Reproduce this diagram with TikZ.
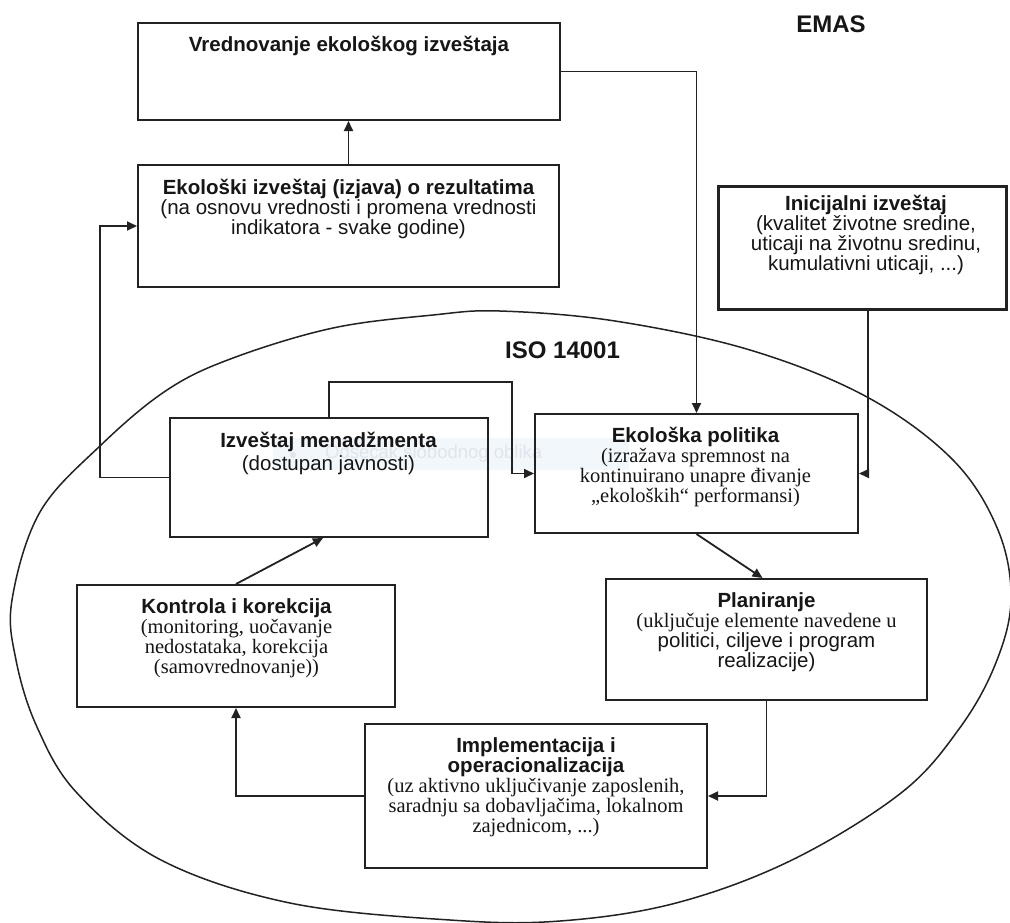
\documentclass[tikz,border=0pt]{standalone}
\usepackage{fontspec}
\setmainfont{Liberation Serif}
\setsansfont{Liberation Sans}
\usetikzlibrary{arrows.meta}
\definecolor{ink}{HTML}{161616}
\definecolor{edge}{HTML}{222222}
\definecolor{tipbg}{HTML}{F2F7FC}
\definecolor{tiptext}{HTML}{E0E5EB}
\begin{document}
\begin{tikzpicture}[x=1pt,y=-1pt,
  box/.style={draw=edge, line width=2pt, inner sep=0pt},
  txt/.style={align=center, inner sep=0pt, anchor=north, text=ink,
              font=\sffamily\fontsize{20.5}{20}\selectfont},
  arr/.style={draw=edge, line width=1.8pt, -{Triangle[length=10pt,width=9pt]}},
  heading/.style={font=\sffamily\bfseries\fontsize{24}{28}\selectfont, text=ink, inner sep=0pt}]
\useasboundingbox (0,0) rectangle (1010,922);
\fill[white] (0,0) rectangle (1010,922);

% ISO 14001 oval (freeform)
\draw[edge, line width=1.5pt] plot[smooth cycle, tension=0.6] coordinates {
 (500,311) (615,321) (750,350) (867,397) (953,460) (998,530) (1011,600)
 (995,665) (959,729) (901,793) (792,860) (676,903) (560,921) (450,920)
 (290,903) (161,860) (77,793) (37,727) (16,660) (12,600)
 (40,512) (101,445) (167,390) (233,358) (333,328) (433,315)};

% faint tooltip artefact
\node[fill=tipbg, minimum width=356pt, minimum height=32pt, inner sep=0pt] (tip) at (451,454) {};
\node[circle, fill=tiptext, inner sep=0pt, minimum size=6pt] (tipdot) at (293,455) {};
\node[anchor=west, inner sep=0pt, text=tiptext, font=\sffamily\fontsize{18.5}{20}\selectfont] (tiptxt) at (325,454) {Odsečak slobodnog oblika};

% headings
\node[heading, anchor=base] (emas) at (831,32) {EMAS};
\node[heading, anchor=base west] (iso) at (505,358) {ISO 14001};

% boxes
\node[box, minimum width=422pt, minimum height=97pt]  (vred)   at (349,71.5)  {};
\node[box, minimum width=421pt, minimum height=122pt] (ekoizv) at (348.5,226) {};
\node[box, line width=3pt, minimum width=288pt, minimum height=123pt] (inic) at (862,247.5) {};
\node[box, minimum width=318pt, minimum height=119pt] (izvm)   at (329,477.5) {};
\node[box, minimum width=323pt, minimum height=119pt] (ekopol) at (696.5,473.5) {};
\node[box, minimum width=318pt, minimum height=122pt] (kontr)  at (236,646) {};
\node[box, minimum width=321pt, minimum height=121pt] (plan)   at (766.5,639.5) {};
\node[box, minimum width=342pt, minimum height=144pt] (impl)   at (536,796) {};

% texts
\node[txt] (tvred) at (349,36) {\bfseries Vrednovanje ekološkog izveštaja};
\node[txt] (tekoizv) at (348.5,179) {{\bfseries Ekološki izveštaj (izjava) o rezultatima}\\(na osnovu vrednosti i promena vrednosti\\indikatora - svake godine)};
\node[txt] (tinic) at (866,195) {{\bfseries Inicijalni izveštaj}\\(kvalitet životne sredine,\\uticaji na životnu sredinu,\\kumulativni uticaji, ...)};
\node[txt] (tizvm) at (328.5,432) {{\bfseries Izveštaj menadžmenta}\\[3pt](dostupan javnosti)};
\node[txt] (tekopol) at (695.5,427) {{\bfseries Ekološka politika}\\{\rmfamily (izražava spremnost na}\\{\rmfamily kontinuirano unapre đivanje}\\{\rmfamily „ekoloških“ performansi)}};
\node[txt] (tkontr) at (236.5,598) {{\bfseries Kontrola i korekcija}\\{\rmfamily (monitoring, uočavanje}\\{\rmfamily nedostataka, korekcija}\\{\rmfamily (samovrednovanje))}};
\node[txt] (tplan) at (766.5,592) {{\bfseries Planiranje}\\{\rmfamily (uključuje elemente navedene u}\\politici, ciljeve i program\\realizacije)};
\node[txt] (timpl) at (536,737) {{\bfseries Implementacija i}\\{\bfseries operacionalizacija}\\{\rmfamily (uz aktivno uključivanje zaposlenih,}\\{\rmfamily saradnju sa dobavljačima, lokalnom}\\{\rmfamily zajednicom, ...)}};

% connectors
\draw[arr] (ekoizv.north) -- (ekoizv.north |- vred.south);
\draw[arr] (vred.east) -| (ekopol.north);
\draw[arr] (izvm.west) -- ++(-69,0) |- (ekoizv.west);
\draw[arr] (izvm.north) |- (512,382) |- (ekopol.west);
\draw[arr] ([xshift=6pt]inic.south) |- (ekopol.east);
\draw[arr] (ekopol.south) -- ([xshift=-4pt]plan.north);
\draw[arr] (plan.south) |- (impl.east);
\draw[arr] (impl.west) -| (kontr.south);
\draw[arr] (kontr.north) -- ([xshift=-6pt]izvm.south);
\end{tikzpicture}
\end{document}
